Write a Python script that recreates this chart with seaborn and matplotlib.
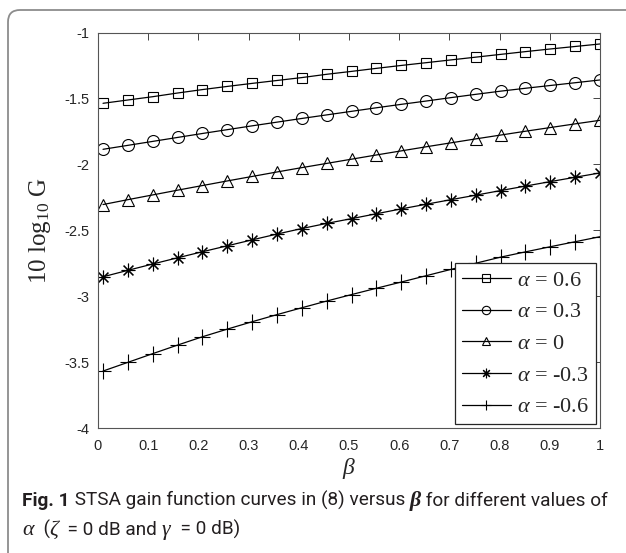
import matplotlib
matplotlib.use("Agg")
import matplotlib.pyplot as plt
from matplotlib.patches import FancyBboxPatch
from matplotlib.transforms import IdentityTransform
import numpy as np
import pandas as pd
import seaborn as sns

# ---------------- data ----------------
beta = [0.01, 0.0595, 0.109, 0.1585, 0.208, 0.2575, 0.307, 0.3565, 0.406, 0.4555,
        0.505, 0.5545, 0.604, 0.6535, 0.703, 0.7525, 0.802, 0.8515, 0.901, 0.9505, 1.0]
g_a06 = [-1.537, -1.512, -1.487, -1.459, -1.433, -1.409, -1.386, -1.364, -1.342, -1.317,
         -1.295, -1.272, -1.250, -1.229, -1.208, -1.187, -1.166, -1.145, -1.125, -1.106, -1.087]
g_a03 = [-1.886, -1.856, -1.826, -1.796, -1.766, -1.737, -1.708, -1.680, -1.652, -1.625,
         -1.598, -1.571, -1.545, -1.520, -1.494, -1.469, -1.445, -1.423, -1.402, -1.381, -1.360]
g_a0 = [-2.305, -2.268, -2.232, -2.196, -2.161, -2.126, -2.092, -2.058, -2.025, -1.993,
        -1.961, -1.929, -1.898, -1.867, -1.837, -1.807, -1.778, -1.749, -1.721, -1.693, -1.666]
g_am03 = [-2.853, -2.804, -2.756, -2.709, -2.663, -2.618, -2.573, -2.529, -2.487, -2.448,
          -2.412, -2.375, -2.338, -2.303, -2.268, -2.234, -2.199, -2.165, -2.131, -2.098, -2.065]
g_am06 = [-3.568, -3.502, -3.436, -3.371, -3.308, -3.250, -3.194, -3.140, -3.088, -3.037,
          -2.988, -2.940, -2.893, -2.845, -2.797, -2.750, -2.704, -2.664, -2.625, -2.587, -2.549]
series_labels = [r"$\alpha$ = 0.6", r"$\alpha$ = 0.3", r"$\alpha$ = 0",
                 r"$\alpha$ = -0.3", r"$\alpha$ = -0.6"]
series_values = [g_a06, g_a03, g_a0, g_am03, g_am06]
xtick_vals = [0, 0.1, 0.2, 0.3, 0.4, 0.5, 0.6, 0.7, 0.8, 0.9, 1]
xtick_labels = ["0", "0.1", "0.2", "0.3", "0.4", "0.5", "0.6", "0.7", "0.8", "0.9", "1"]
ytick_vals = [-4, -3.5, -3, -2.5, -2, -1.5, -1]
ytick_labels = ["-4", "-3.5", "-3", "-2.5", "-2", "-1.5", "-1"]

# ---------------- style ----------------
sns.set_theme(style="white")
plt.rcParams["font.family"] = ["Liberation Sans", "DejaVu Sans"]
plt.rcParams["axes.unicode_minus"] = False
plt.rcParams["mathtext.fontset"] = "custom"
plt.rcParams["mathtext.rm"] = "Liberation Serif"
plt.rcParams["mathtext.it"] = "Liberation Serif:italic"
plt.rcParams["mathtext.bf"] = "Liberation Serif:bold"

W, H = 626, 553
fig = plt.figure(figsize=(W / 100, H / 100), dpi=100)
fig.patch.set_facecolor("white")

ax_l, ax_r, ax_t, ax_b = 98, 600, 32.5, 428
ax = fig.add_axes([ax_l / W, 1 - ax_b / H, (ax_r - ax_l) / W, (ax_b - ax_t) / H])

markers = ["s", "o", "^", (8, 2, 0), "+"]
msizes = [7.6, 8.6, 8.6, 9.8, 11.0]

for vals, lab, m, ms in zip(series_values, series_labels, markers, msizes):
    df = pd.DataFrame({"beta": beta, "G": vals})
    sns.lineplot(data=df, x="beta", y="G", ax=ax, color="black", linewidth=0.9,
                 marker=m, markersize=ms, markerfacecolor="none",
                 markeredgecolor="black", markeredgewidth=0.8, label=lab,
                 legend=False)

for ln in ax.lines:
    ln.set_markerfacecolor("none")
    ln.set_markeredgecolor("black")

ax.set_xlim(0, 1)
ax.set_ylim(-4, -1)
ax.set_xticks(xtick_vals)
ax.set_xticklabels(xtick_labels)
ax.set_yticks(ytick_vals)
ax.set_yticklabels(ytick_labels)
ax.tick_params(direction="in", length=5, width=0.6, top=True, right=True,
               colors="#262626", labelsize=10.5, pad=6)
ax.tick_params(axis="x", pad=8)
for sp in ax.spines.values():
    sp.set_visible(True)
    sp.set_color("#555555")
    sp.set_linewidth(0.8)

ax.set_xlabel(r"$\beta$", fontsize=17, color="#262626")
ax.xaxis.set_label_coords(0.5, -0.07)
ax.set_ylabel(r"10 log$_{10}$ G", fontsize=18, color="#262626",
              family="Liberation Serif")
ax.yaxis.set_label_coords(-0.09, 0.5)

leg = ax.legend(handles=ax.lines, labels=series_labels, loc="lower right",
                bbox_to_anchor=(0.992, 0.01), borderaxespad=0,
                prop={"family": "Liberation Serif", "size": 16},
                frameon=True, fancybox=False, framealpha=1, edgecolor="#262626",
                handlelength=2.2, handletextpad=0.3, labelspacing=0.5,
                borderpad=0.3, markerscale=0.7)
leg.get_frame().set_linewidth(0.9)

# ---------------- border ----------------
border = FancyBboxPatch((8, -60), 700, H - 10 + 60,
                        boxstyle="round,pad=0,rounding_size=12",
                        transform=IdentityTransform(), fill=False,
                        edgecolor="#8c8c8c", linewidth=1.3, clip_on=False)
fig.patches.append(border)

# ---------------- caption ----------------
renderer = fig.canvas.get_renderer()
cap_font = ["Roboto", "DejaVu Sans"]
line1 = [("Fig. 1", dict(weight="bold")),
         (" STSA gain function curves in (8) versus ", dict()),
         ("β", dict(family=["Liberation Serif"], style="italic", weight="bold")),
         (" for different values of", dict())]
line2 = [("α", dict(family=["Liberation Serif"], style="italic")),
         ("  (", dict()),
         ("ζ", dict(family=["Liberation Serif"], style="italic")),
         ("  = 0 dB and ", dict()),
         ("γ", dict(family=["Liberation Serif"], style="italic")),
         ("  = 0 dB)", dict())]


def draw_line(pieces, x0, ybase, size):
    x = x0
    objs = []
    for txt, kw in pieces:
        kw2 = dict(family=cap_font, color="#231f20", fontsize=size)
        kw2.update(kw)
        if "family" in kw and "Liberation Serif" in kw["family"]:
            kw2["fontsize"] = size * 1.15
        t = fig.text(x, ybase, txt, transform=IdentityTransform(),
                     ha="left", va="baseline", **kw2)
        fig.canvas.draw()
        bb = t.get_window_extent(renderer)
        x = bb.x1
        objs.append(t)
    return objs, x - x0


size = 12.0
objs, width = draw_line(line1, 22, H - 506, size)
for o in objs:
    o.remove()
size = size * 585.0 / width
draw_line(line1, 22, H - 506, size)
draw_line(line2, 22, H - 535, size)

fig.savefig("out.png", dpi=100, facecolor="white")
